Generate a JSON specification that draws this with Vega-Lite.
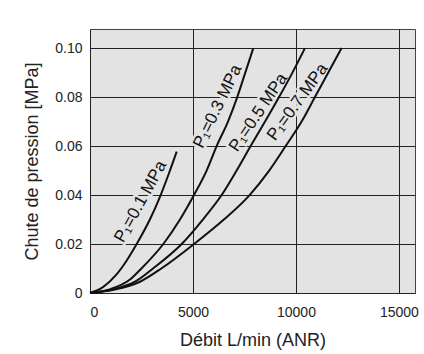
{
  "$schema": "https://vega.github.io/schema/vega-lite/v6.json",
  "width": 325,
  "height": 264,
  "autosize": {"type": "none"},
  "padding": {"left": 90, "top": 29, "right": 9, "bottom": 61},
  "background": "white",
  "config": {
    "font": "Liberation Sans",
    "view": {"fill": "#e3e3e3", "stroke": "#444", "strokeWidth": 1},
    "axis": {
      "grid": true,
      "gridColor": "#222",
      "gridWidth": 1,
      "gridOpacity": 1,
      "domain": false,
      "ticks": false,
      "labelFontSize": 14,
      "labelColor": "#222",
      "titleFontSize": 18,
      "titleFontWeight": "normal",
      "titleColor": "#222"
    }
  },
  "datasets": {
    "curves": [
      {"p": "0.1", "q": 0, "dp": 0},
      {"p": "0.1", "q": 631, "dp": 0.0024},
      {"p": "0.1", "q": 1278, "dp": 0.0075},
      {"p": "0.1", "q": 1800, "dp": 0.0135},
      {"p": "0.1", "q": 2265, "dp": 0.02},
      {"p": "0.1", "q": 2896, "dp": 0.0298},
      {"p": "0.1", "q": 3432, "dp": 0.04},
      {"p": "0.1", "q": 3835, "dp": 0.0489},
      {"p": "0.1", "q": 4209, "dp": 0.0577},
      {"p": "0.3", "q": 0, "dp": 0},
      {"p": "0.3", "q": 1000, "dp": 0.0016},
      {"p": "0.3", "q": 1942, "dp": 0.0055},
      {"p": "0.3", "q": 2508, "dp": 0.0101},
      {"p": "0.3", "q": 3560, "dp": 0.02},
      {"p": "0.3", "q": 4369, "dp": 0.03},
      {"p": "0.3", "q": 5049, "dp": 0.04},
      {"p": "0.3", "q": 5663, "dp": 0.05},
      {"p": "0.3", "q": 6149, "dp": 0.06},
      {"p": "0.3", "q": 6700, "dp": 0.07},
      {"p": "0.3", "q": 7150, "dp": 0.08},
      {"p": "0.3", "q": 7540, "dp": 0.09},
      {"p": "0.3", "q": 7930, "dp": 0.1},
      {"p": "0.5", "q": 0, "dp": 0},
      {"p": "0.5", "q": 1100, "dp": 0.0014},
      {"p": "0.5", "q": 2184, "dp": 0.0046},
      {"p": "0.5", "q": 3075, "dp": 0.0101},
      {"p": "0.5", "q": 4450, "dp": 0.02},
      {"p": "0.5", "q": 5480, "dp": 0.03},
      {"p": "0.5", "q": 6392, "dp": 0.04},
      {"p": "0.5", "q": 7120, "dp": 0.05},
      {"p": "0.5", "q": 7800, "dp": 0.06},
      {"p": "0.5", "q": 8500, "dp": 0.07},
      {"p": "0.5", "q": 9180, "dp": 0.08},
      {"p": "0.5", "q": 9830, "dp": 0.09},
      {"p": "0.5", "q": 10437, "dp": 0.1},
      {"p": "0.7", "q": 0, "dp": 0},
      {"p": "0.7", "q": 1200, "dp": 0.0014},
      {"p": "0.7", "q": 2427, "dp": 0.0046},
      {"p": "0.7", "q": 3479, "dp": 0.0101},
      {"p": "0.7", "q": 5049, "dp": 0.02},
      {"p": "0.7", "q": 6500, "dp": 0.03},
      {"p": "0.7", "q": 7750, "dp": 0.04},
      {"p": "0.7", "q": 8700, "dp": 0.05},
      {"p": "0.7", "q": 9500, "dp": 0.06},
      {"p": "0.7", "q": 10275, "dp": 0.07},
      {"p": "0.7", "q": 10922, "dp": 0.08},
      {"p": "0.7", "q": 11570, "dp": 0.09},
      {"p": "0.7", "q": 12217, "dp": 0.1}
    ],
    "labels": [
      {"p": "0.1", "q": 2460, "dp": 0.0373, "text": "P₁=0.1 MPa"},
      {"p": "0.3", "q": 6200, "dp": 0.0762, "text": "P₁=0.3 MPa"},
      {"p": "0.5", "q": 8180, "dp": 0.0737, "text": "P₁=0.5 MPa"},
      {"p": "0.7", "q": 10080, "dp": 0.078, "text": "P₁=0.7 MPa"}
    ]
  },
  "encoding": {
    "x": {
      "field": "q", "type": "quantitative",
      "scale": {"domain": [0, 15780], "nice": false, "zero": false},
      "axis": {"values": [0, 5000, 10000, 15000], "title": "Débit L/min (ANR)", "labelPadding": 12, "titlePadding": 12, "format": "d"}
    },
    "y": {
      "field": "dp", "type": "quantitative",
      "scale": {"domain": [0, 0.1078], "nice": false, "zero": false},
      "axis": {"values": [0, 0.02, 0.04, 0.06, 0.08, 0.1], "title": "Chute de pression [MPa]", "labelPadding": 8, "titlePadding": 13,
        "labelExpr": "datum.value == 0 ? '0' : format(datum.value, '.2f')"}
    }
  },
  "layer": [
    {
      "data": {"name": "labels"},
      "transform": [{"filter": "datum.p == '0.1'"}],
      "layer": [
        {"mark": {"type": "text", "angle": -61, "fontSize": 17, "stroke": "#e3e3e3", "strokeWidth": 5, "fill": "#e3e3e3"}, "encoding": {"text": {"field": "text"}}},
        {"mark": {"type": "text", "angle": -61, "fontSize": 17, "fill": "#111"}, "encoding": {"text": {"field": "text"}}}
      ]
    },
    {
      "data": {"name": "labels"},
      "transform": [{"filter": "datum.p == '0.3'"}],
      "layer": [
        {"mark": {"type": "text", "angle": -64, "fontSize": 17, "stroke": "#e3e3e3", "strokeWidth": 5, "fill": "#e3e3e3"}, "encoding": {"text": {"field": "text"}}},
        {"mark": {"type": "text", "angle": -64, "fontSize": 17, "fill": "#111"}, "encoding": {"text": {"field": "text"}}}
      ]
    },
    {
      "data": {"name": "labels"},
      "transform": [{"filter": "datum.p == '0.5'"}],
      "layer": [
        {"mark": {"type": "text", "angle": -56, "fontSize": 17, "stroke": "#e3e3e3", "strokeWidth": 5, "fill": "#e3e3e3"}, "encoding": {"text": {"field": "text"}}},
        {"mark": {"type": "text", "angle": -56, "fontSize": 17, "fill": "#111"}, "encoding": {"text": {"field": "text"}}}
      ]
    },
    {
      "data": {"name": "labels"},
      "transform": [{"filter": "datum.p == '0.7'"}],
      "layer": [
        {"mark": {"type": "text", "angle": -54, "fontSize": 17, "stroke": "#e3e3e3", "strokeWidth": 5, "fill": "#e3e3e3"}, "encoding": {"text": {"field": "text"}}},
        {"mark": {"type": "text", "angle": -54, "fontSize": 17, "fill": "#111"}, "encoding": {"text": {"field": "text"}}}
      ]
    },
    {
      "data": {"name": "curves"},
      "mark": {"type": "line", "color": "#111", "strokeWidth": 2, "interpolate": "monotone"},
      "encoding": {"detail": {"field": "p"}}
    }
  ]
}
